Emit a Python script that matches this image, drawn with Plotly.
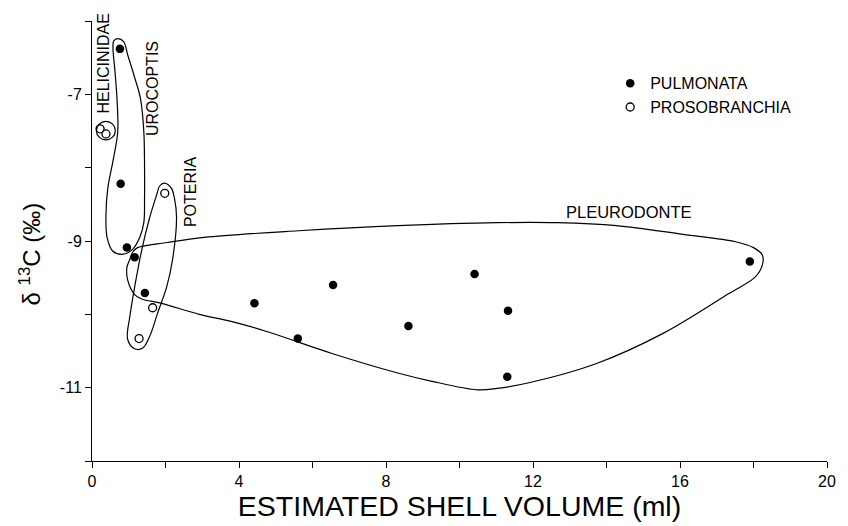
import plotly.graph_objects as go

# Data
pulm_x = [0.76, 0.78, 0.95, 1.16, 1.44, 4.42, 5.60, 6.56, 8.61, 10.41, 11.32, 11.30, 17.90]
pulm_y = [-6.38, -8.22, -9.09, -9.22, -9.71, -9.85, -10.33, -9.60, -10.16, -9.45, -9.95, -10.85, -9.28]
pros_x = [0.22, 0.38, 1.98, 1.65, 1.28]
pros_y = [-7.47, -7.54, -8.35, -9.91, -10.33]

# Hand-drawn group outlines (data coordinates)
uro_x = [0.70, 0.86, 0.97, 1.16, 1.32, 1.41, 1.43, 1.43, 1.41, 1.30, 1.11, 0.84, 0.57, 0.41, 0.38, 0.43, 0.57, 0.70, 0.68, 0.62, 0.57, 0.59, 0.70]
uro_y = [-6.24, -6.28, -6.46, -6.77, -7.06, -7.51, -8.01, -8.41, -8.75, -8.95, -9.11, -9.18, -9.14, -8.95, -8.64, -8.28, -7.91, -7.51, -7.06, -6.66, -6.36, -6.27, -6.24]
pot_x = [1.97, 2.16, 2.24, 2.30, 2.19, 2.03, 1.78, 1.57, 1.38, 1.16, 0.97, 1.03, 1.16, 1.35, 1.57, 1.76, 1.84, 1.97]
pot_y = [-8.21, -8.28, -8.41, -8.68, -9.26, -9.63, -9.99, -10.30, -10.46, -10.47, -10.34, -10.03, -9.63, -9.13, -8.68, -8.37, -8.25, -8.21]
ple_x = [1.24, 2.05, 3.05, 5.62, 8.32, 11.03, 12.65, 14.27, 16.08, 17.51, 18.0, 18.24, 18.24, 18.05, 17.32, 15.54, 13.73, 11.92, 11.03, 10.49, 9.22, 8.32, 6.51, 4.73, 3.81, 2.92, 1.89, 1.35, 1.16, 0.97, 0.95, 1.03, 1.11, 1.24]
ple_y = [-9.09, -9.02, -8.95, -8.86, -8.79, -8.75, -8.75, -8.79, -8.91, -9.01, -9.09, -9.19, -9.33, -9.49, -9.72, -10.26, -10.67, -10.93, -11.01, -11.03, -10.91, -10.80, -10.53, -10.23, -10.10, -10.00, -9.85, -9.79, -9.73, -9.53, -9.36, -9.25, -9.15, -9.09]

x_ticks = [0, 2, 4, 6, 8, 10, 12, 14, 16, 18, 20]
x_labels = ["0", "", "4", "", "8", "", "12", "", "16", "", "20"]
y_ticks = [-12, -11, -10, -9, -8, -7, -6]
y_labels = ["", "-11", "", "-9", "", "-7", ""]

FONT = "Liberation Sans, Arial, sans-serif"

fig = go.Figure()
for ox, oy in [(uro_x, uro_y), (pot_x, pot_y), (ple_x, ple_y)]:
    fig.add_trace(go.Scatter(x=ox, y=oy, mode="lines", line=dict(color="black", width=1.2, shape="spline", smoothing=1.0),
                             showlegend=False, hoverinfo="skip"))

fig.add_trace(go.Scatter(x=pulm_x, y=pulm_y, mode="markers", name="PULMONATA",
                         marker=dict(symbol="circle", size=8.5, color="black")))
fig.add_trace(go.Scatter(x=pros_x, y=pros_y, mode="markers", name="PROSOBRANCHIA",
                         marker=dict(symbol="circle-open", size=8, color="black", line=dict(width=1.3))))

fig.add_shape(type="circle", xref="x", yref="y", x0=0.12, x1=0.635, y0=-7.62, y1=-7.37,
              line=dict(color="black", width=1.2))

labels = [("HELICINIDAE", 0.30, -6.58, -90, 16), ("UROCOPTIS", 1.65, -6.92, -90, 16),
          ("POTERIA", 2.70, -8.33, -90, 16), ("PLEURODONTE", 14.6, -8.60, 0, 16.5)]
for t, lx, ly, ang, fs in labels:
    fig.add_annotation(x=lx, y=ly, text=t, textangle=ang, showarrow=False,
                       font=dict(family=FONT, size=fs, color="black"))

# y-axis title as annotation (placed slightly below the axis middle, as in the reference)
fig.add_annotation(xref="paper", yref="paper", x=-0.084, y=0.47, xanchor="center", yanchor="middle",
                   text="δ <sup>13</sup>C (‰)", textangle=-90, showarrow=False,
                   font=dict(family=FONT, size=24, color="black"))

fig.update_layout(
    width=848, height=526,
    margin=dict(l=92, r=16, t=21, b=60),
    paper_bgcolor="white", plot_bgcolor="white",
    font=dict(family=FONT, color="black"),
    legend=dict(x=0.705, y=0.897, xanchor="left", yanchor="top", bgcolor="rgba(0,0,0,0)",
                font=dict(size=16, family=FONT), itemsizing="trace", tracegroupgap=0),
    xaxis=dict(range=[0, 20], tickvals=x_ticks, ticktext=x_labels, showgrid=False, zeroline=False,
               showline=True, linecolor="black", linewidth=1, ticks="outside", ticklen=6, tickcolor="black",
               tickfont=dict(size=16), title=dict(text="ESTIMATED SHELL VOLUME (ml)", font=dict(size=28.5), standoff=4)),
    yaxis=dict(range=[-12, -6], tickvals=y_ticks, ticktext=y_labels, showgrid=False, zeroline=False,
               showline=True, linecolor="black", linewidth=1, ticks="outside", ticklen=6, tickcolor="black",
               tickfont=dict(size=16)),
)

fig.write_html("out.html", config={"displayModeBar": False},
               post_script="document.body.style.margin='0px';")
